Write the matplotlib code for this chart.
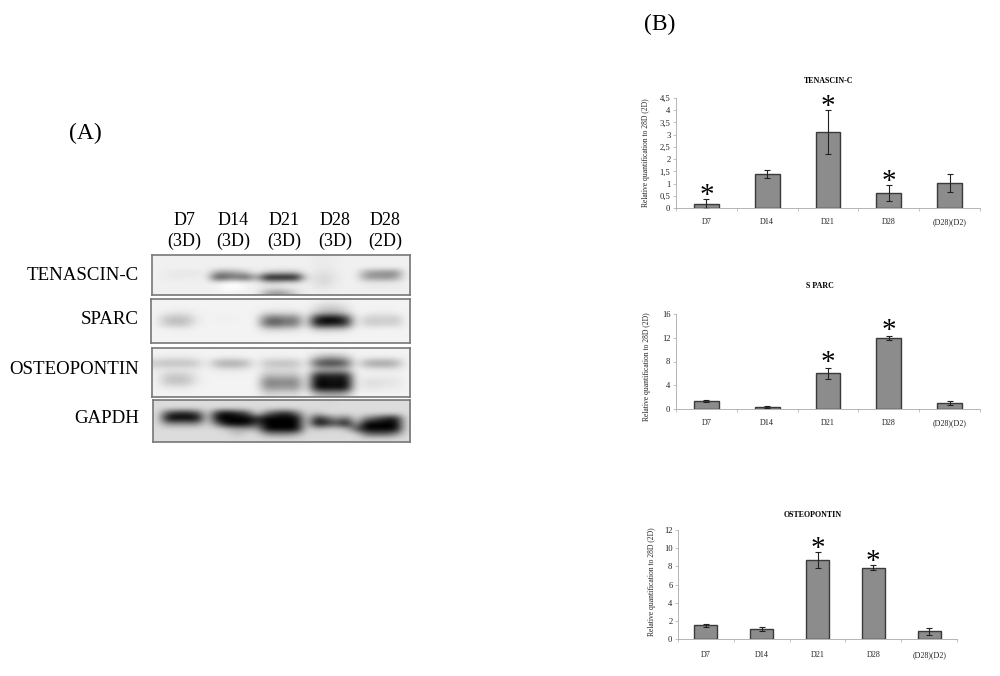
import matplotlib
matplotlib.use('Agg')
import matplotlib.pyplot as plt

plt.rcParams['font.family'] = ['Liberation Serif', 'DejaVu Serif']

W, H = 1000, 676

# blot darkness, 0 white - 100 black, rows top to bottom
blot_tenascin = [
    [6, 6, 6, 6, 6, 6, 6, 6, 6, 6, 6, 6, 6, 6, 6, 6, 8, 8, 7, 6, 6, 6, 6, 6, 6, 6],
    [6, 6, 6, 6, 6, 6, 6, 6, 6, 6, 6, 6, 6, 6, 6, 6, 8, 8, 7, 6, 6, 6, 6, 6, 6, 6],
    [6, 6, 6, 6, 6, 6, 6, 6, 6, 6, 6, 6, 6, 6, 6, 6, 8, 9, 7, 6, 6, 6, 6, 6, 6, 6],
    [6, 8, 10, 9, 10, 6, 35, 40, 32, 22, 6, 20, 24, 24, 24, 6, 10, 12, 8, 6, 6, 36, 42, 44, 46, 6],
    [6, 8, 9, 8, 8, 6, 75, 65, 58, 70, 30, 100, 100, 100, 100, 12, 13, 16, 9, 6, 6, 40, 42, 44, 38, 6],
    [6, 6, 6, 6, 6, 6, 8, 2, 0, 5, 6, 18, 20, 14, 14, 6, 12, 16, 8, 6, 6, 9, 9, 9, 9, 6],
    [6, 6, 6, 6, 6, 6, 5, 0, 0, 5, 6, 8, 8, 6, 6, 6, 10, 10, 7, 6, 6, 8, 8, 8, 8, 6],
    [6, 6, 6, 6, 6, 6, 6, 5, 6, 6, 6, 32, 42, 34, 16, 6, 7, 7, 6, 6, 6, 6, 6, 6, 6, 6],
]
blot_sparc = [
    [5, 5, 5, 5, 5, 5, 5, 5, 5, 5, 5, 5, 5, 5, 5, 5, 6, 8, 8, 6, 5, 5, 5, 5, 5, 5],
    [5, 5, 5, 5, 5, 5, 5, 5, 5, 5, 5, 5, 6, 6, 5, 5, 12, 20, 20, 12, 5, 5, 5, 5, 5, 5],
    [5, 8, 10, 10, 6, 5, 5, 5, 5, 5, 5, 14, 14, 14, 14, 5, 22, 30, 30, 20, 5, 6, 8, 8, 6, 5],
    [5, 22, 25, 25, 10, 5, 6, 7, 6, 5, 5, 50, 60, 48, 52, 5, 85, 100, 100, 80, 5, 18, 20, 18, 22, 5],
    [5, 22, 26, 24, 8, 5, 5, 5, 5, 5, 5, 60, 66, 55, 56, 5, 90, 95, 90, 85, 5, 20, 20, 18, 20, 5],
    [5, 5, 6, 6, 5, 5, 5, 5, 5, 5, 5, 16, 18, 16, 14, 5, 22, 22, 22, 18, 5, 5, 5, 5, 5, 5],
    [5, 5, 5, 5, 5, 5, 5, 5, 5, 5, 5, 5, 5, 5, 5, 5, 5, 5, 5, 5, 5, 5, 5, 5, 5, 5],
    [5, 5, 5, 5, 5, 5, 5, 5, 5, 5, 5, 5, 5, 5, 5, 5, 5, 5, 5, 5, 5, 5, 5, 5, 5, 5],
]
blot_osteo = [
    [5, 5, 5, 5, 5, 5, 5, 5, 5, 5, 5, 5, 5, 5, 5, 5, 5, 5, 5, 5, 5, 5, 5, 5, 5, 5],
    [6, 8, 8, 8, 6, 5, 5, 6, 6, 5, 5, 6, 6, 6, 6, 5, 22, 32, 32, 22, 5, 5, 6, 6, 6, 5],
    [24, 28, 26, 28, 22, 6, 32, 38, 38, 30, 5, 26, 28, 28, 26, 6, 70, 82, 82, 68, 6, 36, 42, 42, 36, 6],
    [8, 8, 8, 8, 8, 5, 8, 10, 10, 8, 5, 12, 12, 12, 12, 5, 22, 25, 25, 22, 5, 8, 8, 8, 8, 5],
    [6, 20, 22, 20, 8, 5, 5, 5, 5, 5, 5, 28, 25, 25, 26, 5, 90, 90, 90, 90, 5, 6, 6, 6, 6, 5],
    [6, 24, 26, 24, 10, 5, 5, 5, 5, 5, 5, 52, 50, 48, 50, 5, 100, 95, 90, 100, 5, 14, 14, 12, 12, 5],
    [5, 8, 8, 8, 5, 5, 5, 5, 5, 5, 5, 42, 40, 38, 42, 5, 100, 100, 100, 100, 5, 10, 10, 8, 8, 5],
    [5, 5, 5, 5, 5, 5, 5, 5, 5, 5, 5, 15, 14, 12, 14, 5, 25, 30, 30, 25, 5, 5, 5, 5, 5, 5],
]
blot_gapdh = [
    [14, 14, 14, 14, 14, 14, 14, 14, 14, 14, 14, 14, 14, 14, 14, 14, 14, 16, 14, 14, 14, 14, 14, 14, 14, 14],
    [14, 14, 14, 14, 14, 14, 14, 14, 14, 14, 14, 14, 14, 14, 14, 14, 14, 14, 14, 14, 14, 14, 14, 14, 14, 14],
    [14, 70, 85, 85, 70, 14, 85, 100, 85, 70, 14, 55, 75, 85, 55, 14, 25, 14, 14, 14, 14, 14, 14, 14, 14, 14],
    [14, 100, 100, 100, 100, 14, 100, 100, 100, 100, 85, 100, 100, 100, 100, 14, 85, 65, 40, 60, 14, 50, 65, 85, 90, 14],
    [14, 45, 45, 45, 45, 14, 60, 100, 100, 100, 70, 100, 100, 100, 100, 14, 100, 85, 70, 100, 30, 100, 100, 100, 100, 14],
    [14, 14, 14, 14, 14, 14, 14, 25, 35, 35, 35, 100, 100, 100, 100, 14, 25, 20, 18, 25, 70, 100, 100, 100, 100, 14],
    [14, 14, 14, 14, 14, 14, 14, 14, 25, 14, 14, 40, 45, 45, 35, 14, 14, 14, 14, 14, 14, 55, 60, 60, 45, 14],
    [14, 14, 14, 14, 14, 14, 14, 14, 14, 14, 14, 14, 14, 14, 14, 14, 14, 14, 14, 14, 14, 14, 14, 14, 14, 14],
]

blot_names = ['TENASCIN-C', 'SPARC', 'OSTEOPONTIN', 'GAPDH']
blot_lanes = ['D7\n(3D)', 'D14\n(3D)', 'D21\n(3D)', 'D28\n(3D)', 'D28\n(2D)']

days = ['D7', 'D14', 'D21', 'D28', '(D28)(D2)']

tenascin_vals = [0.18, 1.40, 3.12, 0.63, 1.02]
tenascin_err = [0.19, 0.16, 0.90, 0.33, 0.38]
tenascin_stars = [True, False, True, True, False]
tenascin_ticks = [0, 0.5, 1, 1.5, 2, 2.5, 3, 3.5, 4, 4.5]
tenascin_ticklabels = ['0', '0,5', '1', '1,5', '2', '2,5', '3', '3,5', '4', '4,5']

sparc_vals = [1.4, 0.3, 6.0, 12.0, 1.0]
sparc_err = [0.2, 0.2, 0.95, 0.35, 0.4]
sparc_stars = [False, False, True, True, False]
sparc_ticks = [0, 4, 8, 12, 16]

osteo_vals = [1.5, 1.1, 8.7, 7.85, 0.85]
osteo_err = [0.2, 0.2, 0.9, 0.3, 0.4]
osteo_stars = [False, False, True, True, False]
osteo_ticks = [0, 2, 4, 6, 8, 10, 12]


def px_axes(fig, left, top, right, bottom):
    return fig.add_axes([left / W, 1 - bottom / H, (right - left) / W, (bottom - top) / H])


def px_text(fig, x, y, s, **kw):
    fig.text(x / W, 1 - y / H, s, **kw)


def plot_blot(fig, grid, box):
    ax = px_axes(fig, *box)
    ax.imshow(grid, cmap='gray_r', vmin=0, vmax=100, aspect='auto', interpolation='bicubic')
    ax.set_xticks([])
    ax.set_yticks([])
    for s in ax.spines.values():
        s.set_color('#777777')
        s.set_linewidth(1.2)


def plot_bars(fig, box, vals, err, stars, ticks, ticklabels, title, title_pos, label_pos, pad, star_off):
    ax = px_axes(fig, *box)
    x = list(range(len(vals)))
    ax.bar(x, vals, width=0.41, color='#8c8c8c', edgecolor='#3a3a3a', linewidth=1.0)
    ax.errorbar(x, vals, yerr=err, fmt='none', ecolor='#222222', elinewidth=0.8, capsize=2, capthick=0.8)
    ax.set_xlim(-0.5, len(vals) - 0.5)
    ax.set_ylim(ticks[0], ticks[-1])
    ax.set_xticks([i - 0.5 for i in range(len(vals) + 1)])
    ax.set_xticklabels([])
    ax.set_xticks(x, minor=True)
    ax.set_xticklabels(days, minor=True, fontsize=5.8)
    ax.tick_params(axis='x', which='major', length=2, width=0.5, color='#aaaaaa')
    ax.tick_params(axis='x', which='minor', length=0, pad=pad, labelcolor='#222222')
    ax.set_yticks(ticks)
    ax.set_yticklabels(ticklabels, fontsize=6.2, color='#222222')
    ax.tick_params(axis='y', length=2, width=0.5, color='#aaaaaa', pad=2)
    ax.set_ylabel('Relative quantification to 28D (2D)', fontsize=5.5, color='#222222')
    ax.yaxis.set_label_coords(*label_pos)
    ax.spines['top'].set_visible(False)
    ax.spines['right'].set_visible(False)
    ax.spines['left'].set_color('#aaaaaa')
    ax.spines['bottom'].set_color('#aaaaaa')
    ax.spines['left'].set_linewidth(0.6)
    ax.spines['bottom'].set_linewidth(0.6)
    for i in x:
        if stars[i]:
            ax.annotate('*', (i, vals[i] + err[i]), xytext=(0, star_off), textcoords='offset points',
                        ha='center', va='baseline', fontsize=21, annotation_clip=False)
    px_text(fig, title_pos[0], title_pos[1], title, fontsize=5.8, fontweight='bold', ha='center', va='center')


fig = plt.figure(figsize=(W / 100, H / 100), dpi=100)

# (A) blot panels
plot_blot(fig, blot_tenascin, (152, 255, 410, 295))
plot_blot(fig, blot_sparc, (151, 299, 410, 343))
plot_blot(fig, blot_osteo, (152, 348, 410, 397))
plot_blot(fig, blot_gapdh, (153, 400, 410, 442))

for name, y in zip(blot_names, [276, 320, 370, 418]):
    px_text(fig, 139, y, name, fontsize=13.6, ha='right', va='center')
for lane, x in zip(blot_lanes, [184, 233, 284, 335, 385]):
    px_text(fig, x, 231, lane, fontsize=13, ha='center', va='center', linespacing=1.25)

px_text(fig, 85, 133, '(A)', fontsize=17, ha='center', va='center')
px_text(fig, 660, 24, '(B)', fontsize=17, ha='center', va='center')

# (B) bar charts
plot_bars(fig, (676, 98, 980, 208), tenascin_vals, tenascin_err, tenascin_stars,
          tenascin_ticks, tenascin_ticklabels, 'TENASCIN-C', (829, 81), (-0.085, 0.5), 7.5, -3)
plot_bars(fig, (676, 314, 980, 409), sparc_vals, sparc_err, sparc_stars,
          sparc_ticks, [str(t) for t in sparc_ticks], 'S PARC', (820, 286), (-0.082, 0.45), 7.5, -1.5)
plot_bars(fig, (678, 530, 957, 639), osteo_vals, osteo_err, osteo_stars,
          osteo_ticks, [str(t) for t in osteo_ticks], 'OSTEOPONTIN', (813, 515), (-0.08, 0.53), 8.5, -3)

plt.savefig('out.png', dpi=100)
